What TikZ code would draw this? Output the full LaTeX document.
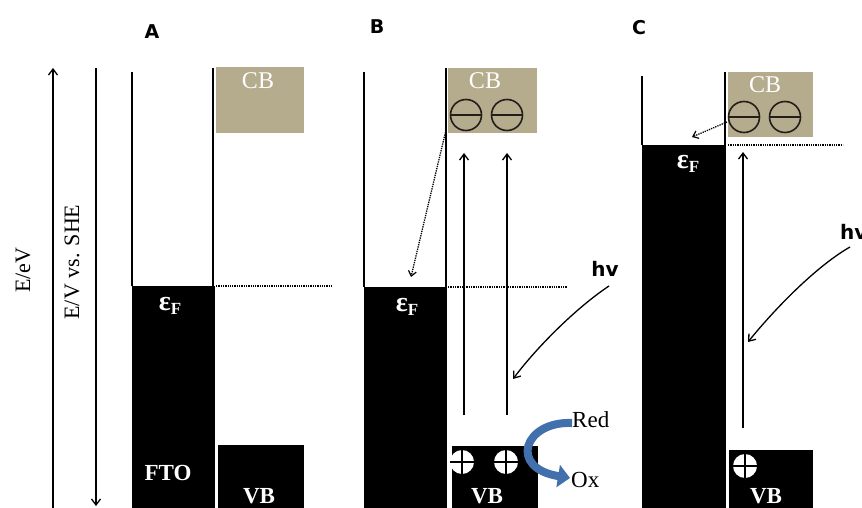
\documentclass[tikz,border=0pt]{standalone}
\usepackage{fontspec}
\setmainfont{Liberation Serif}
\newfontfamily\lblfont{DejaVu Sans}
\usetikzlibrary{arrows.meta}
\definecolor{cbtan}{RGB}{181,172,142}
\definecolor{redoxblue}{RGB}{66,112,172}
\definecolor{circdark}{RGB}{35,30,25}
\newcommand{\epsF}{{\fontsize{28}{28}\selectfont\bfseries ε}\raisebox{-0.45ex}{\fontsize{17}{17}\selectfont\bfseries F}}
\tikzset{
  bandline/.style={draw=black, line width=1.4pt},
  metal/.style={fill=black},
  cbbox/.style={fill=cbtan},
  fermi/.style={draw=black, densely dotted, line width=1.3pt},
  wtext/.style={text=white, inner sep=0pt, font=\fontsize{24}{26}\selectfont},
  wbold/.style={text=white, inner sep=0pt, font=\fontsize{23}{25}\selectfont\bfseries},
  panellbl/.style={inner sep=0pt, font=\lblfont\bfseries\fontsize{19}{21}\selectfont},
  hvlbl/.style={inner sep=0pt, font=\lblfont\bfseries\fontsize{20}{22}\selectfont},
  btext/.style={inner sep=0pt, font=\fontsize{23}{25}\selectfont},
  axlbl/.style={inner sep=0pt, rotate=90, font=\fontsize{22}{24}\selectfont},
  barb/.style={-{Straight Barb[length=6pt,width=9pt,line width=1.3pt]}, line width=1.3pt},
  dotarr/.style={-{Straight Barb[length=5pt,width=8pt,line width=1.2pt]}, densely dotted, line width=1.3pt},
  elec/.style={circle, draw=circdark, line width=1.6pt, minimum size=31pt, inner sep=0pt,
    path picture={\draw[circdark, line width=1.6pt] (path picture bounding box.west) -- (path picture bounding box.east);}},
  hole/.style={circle, fill=white, minimum size=24pt, inner sep=0pt,
    path picture={\draw[black, line width=2.6pt] (path picture bounding box.west) -- (path picture bounding box.east)
      (path picture bounding box.north) -- (path picture bounding box.south);}},
  redox/.style={draw=redoxblue, line width=8pt, -{Triangle[length=12pt,width=22pt]}},
}
\begin{document}
\begin{tikzpicture}[x=1pt,y=1pt]
\useasboundingbox (0,0) rectangle (862,-508);
\fill[white] (0,0) rectangle (862,-508);

% ---------- axes ----------
\coordinate (ax1b) at (53,-508);
\coordinate (ax1t) at (53,-68);
\coordinate (ax2t) at (96,-68);
\coordinate (ax2b) at (96,-506);
\draw[barb] (ax1b) -- (ax1t);
\draw[barb] (ax2t) -- (ax2b);
\node[axlbl] (eev) at (23,-270) {E/eV};
\node[axlbl] (eshe) at (72,-262) {E/V vs. SHE};

% ---------- panel A ----------
\node[panellbl] (labA) at (152,-32) {A};
\fill[metal] (132,-286) rectangle (215,-508);
\coordinate (aL1) at (132,-72); \coordinate (aL2) at (132,-286);
\coordinate (aR1) at (213,-68); \coordinate (aR2) at (213,-286);
\draw[bandline] (aL1) -- (aL2);
\draw[bandline] (aR1) -- (aR2);
\fill[cbbox] (216,-67) rectangle (304,-133);
\coordinate (aF1) at (216,-286); \coordinate (aF2) at (333,-286);
\draw[fermi] (aF1) -- (aF2);
\fill[metal] (218,-445) rectangle (304,-508);
\node[wtext] (cbA) at (258,-81) {CB};
\node[wbold] (efA) at (170,-306) {\epsF};
\node[wbold] (fto) at (168,-473) {FTO};
\node[wbold] (vbA) at (259,-496) {VB};

% ---------- panel B ----------
\node[panellbl] (labB) at (377,-27) {B};
\fill[metal] (364,-287) rectangle (447,-508);
\coordinate (bL1) at (364,-72); \coordinate (bL2) at (364,-287);
\coordinate (bR1) at (446,-68); \coordinate (bR2) at (446,-287);
\draw[bandline] (bL1) -- (bL2);
\draw[bandline] (bR1) -- (bR2);
\fill[cbbox] (448,-68) rectangle (537,-133);
\coordinate (bF1) at (448,-287); \coordinate (bF2) at (567,-287);
\draw[fermi] (bF1) -- (bF2);
\fill[metal] (452,-446) rectangle (538,-508);
\node[wtext] (cbB) at (485,-81) {CB};
\node[elec] (eB1) at (466,-115) {};
\node[elec] (eB2) at (507,-115) {};
\node[hole] (hB1) at (462,-462) {};
\node[hole] (hB2) at (506,-462) {};
\node[wbold] (efB) at (407,-307) {\epsF};
\node[wbold] (vbB) at (487,-496) {VB};
\coordinate (bu1s) at (464,-415); \coordinate (bu1e) at (464,-153);
\coordinate (bu2s) at (507,-415); \coordinate (bu2e) at (507,-153);
\draw[barb] (bu1s) -- (bu1e);
\draw[barb] (bu2s) -- (bu2e);
\coordinate (bd1) at (446,-130); \coordinate (bd2) at (411,-277);
\draw[dotarr] (bd1) -- (bd2);
\node[hvlbl] (hvB) at (605,-269) {hv};
\coordinate (bh1) at (609,-286); \coordinate (bh2) at (513,-379);
\draw[barb] (bh1) .. controls (576,-308) and (537,-347) .. (bh2);
\node[btext, anchor=west] (red) at (572,-420) {Red};
\node[btext, anchor=west] (ox) at (571,-480) {Ox};
\coordinate (rx1) at (572,-423); \coordinate (rx2) at (570,-478);
\draw[redox] (rx1) .. controls (524,-421) and (508,-468) .. (rx2);

% ---------- panel C ----------
\node[panellbl] (labC) at (639,-28) {C};
\fill[metal] (642,-145) rectangle (726,-508);
\coordinate (cL1) at (642,-76); \coordinate (cL2) at (642,-145);
\coordinate (cR1) at (725,-72); \coordinate (cR2) at (725,-145);
\draw[bandline] (cL1) -- (cL2);
\draw[bandline] (cR1) -- (cR2);
\fill[cbbox] (728,-72) rectangle (813,-137);
\coordinate (cF1) at (728,-145); \coordinate (cF2) at (843,-145);
\draw[fermi] (cF1) -- (cF2);
\fill[metal] (729,-450) rectangle (813,-508);
\node[wtext] (cbC) at (765,-85) {CB};
\node[elec] (eC1) at (744,-117) {};
\node[elec] (eC2) at (785,-117) {};
\node[hole] (hC1) at (745,-466) {};
\node[wbold] (efC) at (688,-164) {\epsF};
\node[wbold] (vbC) at (766,-496) {VB};
\coordinate (cus) at (743,-428); \coordinate (cue) at (743,-152);
\draw[barb] (cus) -- (cue);
\coordinate (cd1) at (727,-122); \coordinate (cd2) at (692,-137);
\draw[dotarr] (cd1) -- (cd2);
\node[hvlbl, anchor=west] (hvC) at (840,-232) {hv};
\coordinate (ch1) at (850,-247); \coordinate (ch2) at (748,-342);
\draw[barb] (ch1) .. controls (815,-267) and (773,-311) .. (ch2);
\end{tikzpicture}
\end{document}
